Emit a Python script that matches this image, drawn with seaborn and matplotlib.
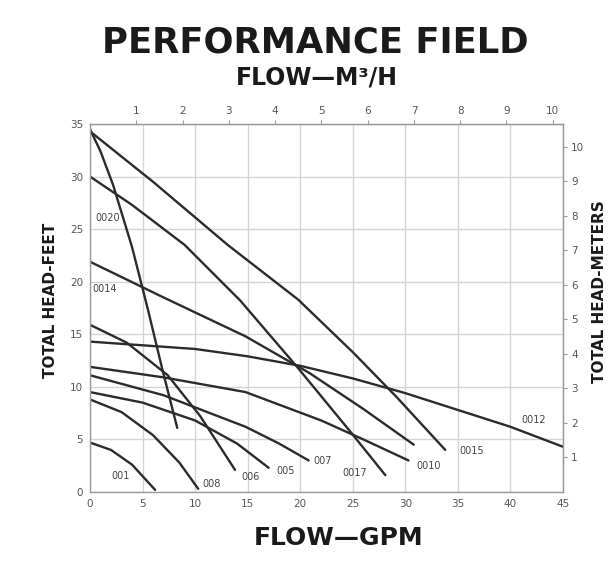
# Pump performance field chart (GPM vs. total head)
import pandas as pd
import matplotlib
matplotlib.use("Agg")
import matplotlib.pyplot as plt
import seaborn as sns

# ---- curves: flow in GPM, head in feet ----
gpm_001 = [0, 2, 4, 6.2]
ft_001 = [4.7, 4.0, 2.6, 0.2]

gpm_008 = [0, 3, 6, 8.5, 10.3]
ft_008 = [8.8, 7.6, 5.4, 2.8, 0.3]

gpm_006 = [0, 3.5, 7.4, 10.5, 13.8]
ft_006 = [15.9, 14.2, 11.1, 7.2, 2.1]

gpm_005 = [0, 5, 10, 14, 17]
ft_005 = [9.5, 8.5, 6.8, 4.6, 2.3]

gpm_007 = [0, 7, 14.8, 18, 20.8]
ft_007 = [11.1, 9.2, 6.2, 4.6, 3.0]

gpm_0017 = [0, 4, 9, 14.3, 19.7, 24.8, 28.1]
ft_0017 = [30, 27.3, 23.5, 18.2, 11.9, 5.7, 1.6]

gpm_0010 = [0, 7, 14.8, 22, 26, 30.3]
ft_0010 = [11.9, 10.9, 9.5, 6.8, 5.0, 3.0]

gpm_0015 = [0, 6, 13.1, 19.8, 25, 29.2, 33.8]
ft_0015 = [34.3, 29.5, 23.5, 18.3, 13.3, 9.0, 4.0]

gpm_0012 = [0, 10, 15, 20, 25, 30, 35, 40, 45]
ft_0012 = [14.3, 13.6, 12.9, 12.0, 10.8, 9.4, 7.8, 6.2, 4.3]

gpm_0014 = [0, 7, 14.8, 20.9, 26, 30.8]
ft_0014 = [21.9, 18.5, 14.8, 11.3, 7.9, 4.5]

gpm_0020 = [0, 1, 2.2, 4.0, 5.5, 6.9, 8.3]
ft_0020 = [34.5, 32.4, 29.2, 23.3, 17.4, 11.6, 6.1]

curves = {
    "001": (gpm_001, ft_001),
    "008": (gpm_008, ft_008),
    "006": (gpm_006, ft_006),
    "005": (gpm_005, ft_005),
    "007": (gpm_007, ft_007),
    "0017": (gpm_0017, ft_0017),
    "0010": (gpm_0010, ft_0010),
    "0015": (gpm_0015, ft_0015),
    "0012": (gpm_0012, ft_0012),
    "0014": (gpm_0014, ft_0014),
    "0020": (gpm_0020, ft_0020),
}

# where each model number is printed (GPM, feet)
label_pos = {
    "001": (2.95, 1.5),
    "008": (11.6, 0.8),
    "006": (15.3, 1.4),
    "005": (18.6, 2.0),
    "007": (22.1, 2.9),
    "0017": (25.2, 1.8),
    "0010": (32.2, 2.5),
    "0015": (36.3, 3.9),
    "0012": (42.2, 6.8),
    "0014": (1.4, 19.3),
    "0020": (1.7, 26.1),
}

GPM_PER_M3H = 4.403
FT_PER_M = 3.281

rows = []
for model, (xs, ys) in curves.items():
    for x, y in zip(xs, ys):
        rows.append({"model": model, "gpm": x, "ft": y})
df = pd.DataFrame(rows)

# ---- figure ----
sns.set_style("white")
plt.rcParams["font.family"] = ["DejaVu Sans"]

fig = plt.figure(figsize=(6.15, 5.72), dpi=100)
ax = fig.add_axes([0.1463, 0.1399, 0.7691, 0.6434])

sns.lineplot(data=df, x="gpm", y="ft", units="model", estimator=None,
             sort=False, color="#2b2b2b", linewidth=1.7, ax=ax)

for model, (lx, ly) in label_pos.items():
    ax.text(lx, ly, model, fontsize=7, color="#444444",
            ha="center", va="center")

ax.set_xlim(0, 45)
ax.set_ylim(0, 35)
ax.set_xticks(range(0, 50, 5))
ax.set_yticks(range(0, 40, 5))
ax.grid(True, color="#d4d4d4", linewidth=1.0)
ax.set_axisbelow(True)
for s in ax.spines.values():
    s.set_color("#9a9a9a")
    s.set_linewidth(1.0)
ax.tick_params(labelsize=7.5, labelcolor="#555555", color="#9a9a9a",
               length=3, pad=2)
ax.set_xlabel("")
ax.set_ylabel("")

# metric scales on the top and right
top = ax.secondary_xaxis("top", functions=(lambda g: g / GPM_PER_M3H,
                                           lambda m: m * GPM_PER_M3H))
top.set_xticks(range(1, 11))
top.tick_params(labelsize=7.5, labelcolor="#555555", color="#9a9a9a",
                length=3, pad=3)
top.spines["top"].set_color("#9a9a9a")

right = ax.secondary_yaxis("right", functions=(lambda f: f / FT_PER_M,
                                               lambda m: m * FT_PER_M))
right.set_yticks(range(1, 11))
right.tick_params(labelsize=7.5, labelcolor="#555555", color="#9a9a9a",
                  length=3, pad=3)
right.spines["right"].set_color("#9a9a9a")

# ---- titles and axis names ----
fig.text(0.512, 0.926, "PERFORMANCE FIELD", fontsize=25.5, fontweight="bold",
         ha="center", va="center", color="#1a1a1a")
fig.text(0.516, 0.864, "FLOW\u2014M\u00b3/H", fontsize=17, fontweight="bold",
         ha="center", va="center", color="#1a1a1a")
fig.text(0.55, 0.059, "FLOW\u2014GPM", fontsize=18, fontweight="bold",
         ha="center", va="center", color="#1a1a1a")
fig.text(0.082, 0.475, "TOTAL HEAD-FEET", fontsize=11, fontweight="bold",
         rotation=90, ha="center", va="center", color="#1a1a1a")
fig.text(0.974, 0.49, "TOTAL HEAD-METERS", fontsize=11, fontweight="bold",
         rotation=90, ha="center", va="center", color="#1a1a1a")

fig.savefig("out.png", dpi=100)
